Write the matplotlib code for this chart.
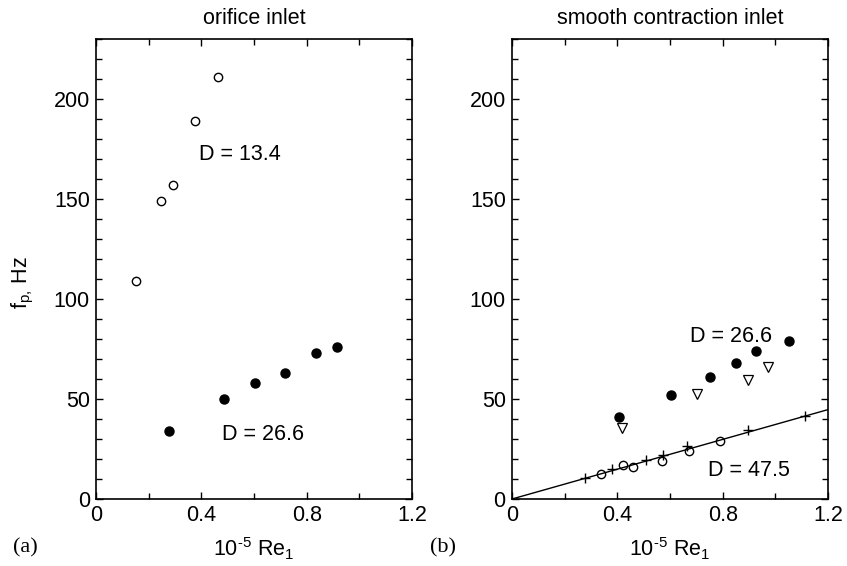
import matplotlib

matplotlib.use("Agg")
import matplotlib.pyplot as plt
from matplotlib.ticker import FuncFormatter, MultipleLocator

plt.rcParams["font.family"] = ["Liberation Sans", "DejaVu Sans"]
plt.rcParams["mathtext.default"] = "regular"
plt.rcParams["font.size"] = 15.5

# (a) orifice inlet
a_d134_re = [0.152, 0.246, 0.293, 0.376, 0.464]
a_d134_f = [109, 149, 157, 189, 211]
a_d266_re = [0.279, 0.486, 0.604, 0.719, 0.834, 0.914]
a_d266_f = [34, 50, 58, 63, 73, 76]

# (b) smooth contraction inlet
b_d266_re = [0.408, 0.602, 0.752, 0.850, 0.927, 1.052]
b_d266_f = [40.8, 51.8, 60.9, 68.0, 73.9, 78.9]
b_tri_re = [0.418, 0.701, 0.898, 0.974]
b_tri_f = [35.5, 52.5, 59.5, 65.9]
b_plus_re = [0.277, 0.381, 0.509, 0.572, 0.663, 0.897, 1.112]
b_plus_f = [10.4, 15.0, 19.3, 22.0, 26.6, 34.4, 41.3]
b_circ_re = [0.337, 0.420, 0.461, 0.568, 0.673, 0.790]
b_circ_f = [12.4, 17.0, 15.8, 19.0, 24.0, 29.0]
fit_re = [0.0, 1.2]
fit_f = [0.0, 44.7]

fig = plt.figure(figsize=(8.47, 5.66), dpi=100)
axA = fig.add_axes([96 / 847, 1 - 499 / 566, 316 / 847, 460 / 566])
axB = fig.add_axes([512 / 847, 1 - 499 / 566, 316 / 847, 460 / 566])

axA.plot(a_d134_re, a_d134_f, "o", ms=6, mfc="white", mec="black", mew=1.0)
axA.plot(a_d266_re, a_d266_f, "o", ms=6.5, mfc="black", mec="black")
axA.text(0.39, 172, "D = 13.4", va="center")
axA.text(0.48, 32, "D = 26.6", va="center")
axA.set_title("orifice inlet", fontsize=15.5, pad=11)

axB.plot(fit_re, fit_f, "-", color="black", lw=1.0)
axB.plot(b_d266_re, b_d266_f, "o", ms=6.5, mfc="black", mec="black")
axB.plot(b_tri_re, b_tri_f, "v", ms=6.5, mfc="white", mec="black", mew=0.9)
axB.plot(b_plus_re, b_plus_f, "+", ms=7, color="black", mew=1.0)
axB.plot(b_circ_re, b_circ_f, "o", ms=6, mfc="none", mec="black", mew=1.0)
axB.text(0.675, 81.5, "D = 26.6", va="center")
axB.text(0.745, 14.5, "D = 47.5", va="center")
axB.set_title("smooth contraction inlet", fontsize=15.5, pad=11)

for ax in (axA, axB):
    ax.set_xlim(0, 1.2)
    ax.set_ylim(0, 230)
    ax.xaxis.set_major_locator(MultipleLocator(0.4))
    ax.xaxis.set_minor_locator(MultipleLocator(0.2))
    ax.yaxis.set_major_locator(MultipleLocator(50))
    ax.yaxis.set_minor_locator(MultipleLocator(10))
    ax.xaxis.set_major_formatter(FuncFormatter(
        lambda v, p: "0" if abs(v) < 1e-9 else f"{v:.1f}"))
    ax.tick_params(which="both", direction="in", top=True, right=True,
                   labelsize=15.5, width=1.0)
    ax.tick_params(which="major", length=5, pad=4.5)
    ax.tick_params(which="minor", length=4)
    for s in ax.spines.values():
        s.set_linewidth(1.2)
    ax.set_xlabel("10$^{\u20105}$ Re$_1$", fontsize=15.5, labelpad=7)

axA.set_ylabel("f$_{p,}\\,$Hz", fontsize=15.5)
axA.yaxis.set_label_coords(-0.19, 0.47)

fig.text(13 / 847, 1 - 548 / 566, "(a)", family="Liberation Serif",
         fontsize=16, va="center")
fig.text(430 / 847, 1 - 548 / 566, "(b)", family="Liberation Serif",
         fontsize=16, va="center")

fig.savefig("out.png", dpi=100)
